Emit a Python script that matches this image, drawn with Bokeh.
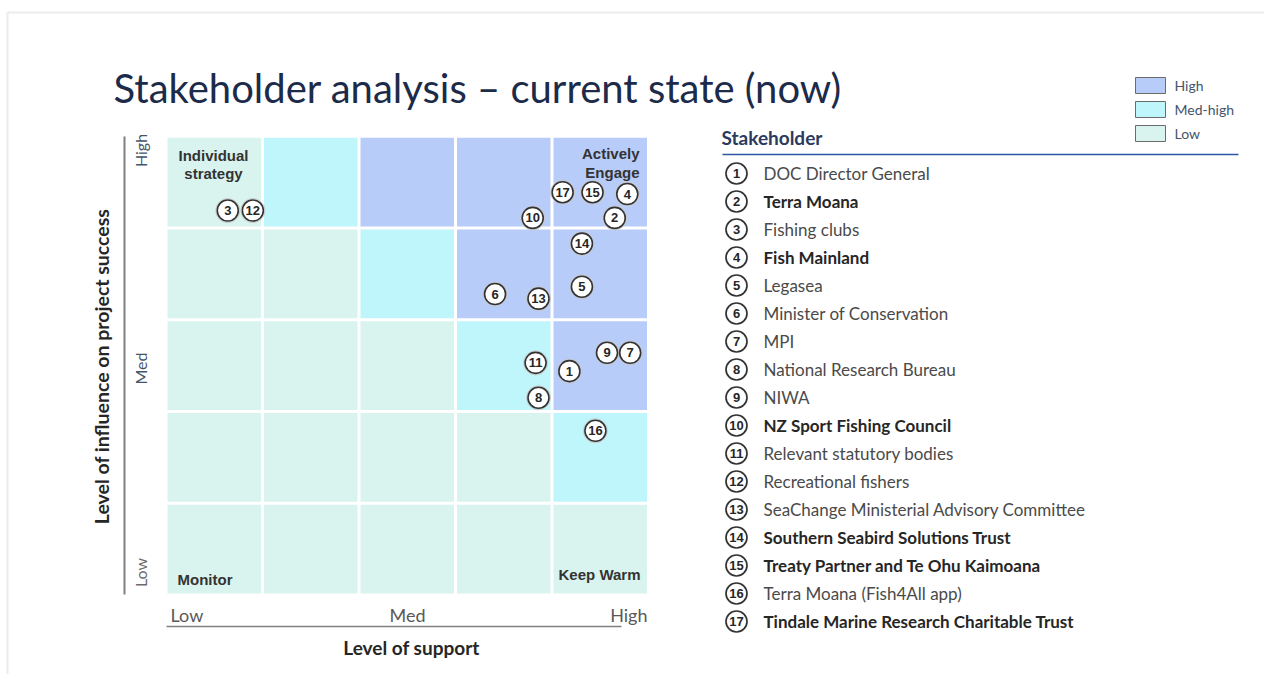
import numpy as np
from bokeh.plotting import figure
from bokeh.models import Range1d
from bokeh.core.properties import value
from bokeh.embed import file_html
from bokeh.resources import INLINE

# ---------------- data ----------------
title = "Stakeholder analysis \u2013 current state (now)"
x_axis_title = "Level of support"
y_axis_title = "Level of influence on project success"
x_tick_labels = ["Low", "Med", "High"]
y_tick_labels = ["Low", "Med", "High"]
legend_levels = ["High", "Med-high", "Low"]
level_colors = {"High": "#b8ccfa", "Med-high": "#bff6fb", "Low": "#d9f3ee"}

# priority of each cell: rows from low influence (bottom) to high influence (top),
# columns from low support (left) to high support (right)
cell_grid = [
    ["Low", "Low", "Low", "Low", "Low"],
    ["Low", "Low", "Low", "Low", "Med-high"],
    ["Low", "Low", "Low", "Med-high", "High"],
    ["Low", "Low", "Med-high", "High", "High"],
    ["Low", "Med-high", "High", "High", "High"],
]

quadrant_top_left = ["Individual", "strategy"]
quadrant_top_right = ["Actively", "Engage"]
quadrant_bottom_left = "Monitor"
quadrant_bottom_right = "Keep Warm"

list_header = "Stakeholder"
stakeholder_ids = [str(i) for i in range(1, 18)]
stakeholder_names = [
    "DOC Director General",
    "Terra Moana",
    "Fishing clubs",
    "Fish Mainland",
    "Legasea",
    "Minister of Conservation",
    "MPI",
    "National Research Bureau",
    "NIWA",
    "NZ Sport Fishing Council",
    "Relevant statutory bodies",
    "Recreational fishers",
    "SeaChange Ministerial Advisory Committee",
    "Southern Seabird Solutions Trust",
    "Treaty Partner and Te Ohu Kaimoana",
    "Terra Moana (Fish4All app)",
    "Tindale Marine Research Charitable Trust",
]
stakeholder_bold = [False, True, False, True, False, False, False, False, False,
                    True, False, False, False, True, True, False, True]
# position in the matrix (0..5 on both scales)
support = [4.18, 4.65, 0.64, 4.78, 4.31, 3.41, 4.81, 3.86, 4.57, 3.80, 3.83,
           0.90, 3.86, 4.31, 4.42, 4.45, 4.11]
influence = [2.44, 4.11, 4.19, 4.37, 3.36, 3.28, 2.64, 2.15, 2.64, 4.11, 2.53,
             4.19, 3.23, 3.83, 4.39, 1.79, 4.39]

# ---------------- layout ----------------
W, H = 1264, 674
X0, Y0 = 0, 0                      # page offset of the figure
MX0, MXU = 165.5, 96.5             # matrix left edge (px) and px per unit
MY0, MYU = 594.5, 91.75            # matrix bottom edge (px) and px per unit
GAP = 3.0

FONT_G = "Lato"
FONT_A = "Liberation Sans"
NAVY = "#1c2b4a"
SLATE = "#44546a"

p = figure(width=W, height=H, x_range=Range1d(X0, X0 + W), y_range=Range1d(Y0 + H, Y0),
           output_backend="svg", toolbar_location=None, min_border=0,
           x_axis_location=None, y_axis_location=None, background_fill_color="white",
           border_fill_color="white")
p.grid.visible = False
p.outline_line_color = None
p.extra_x_ranges = {"m": Range1d((X0 - MX0) / MXU, (X0 + W - MX0) / MXU)}
p.extra_y_ranges = {"m": Range1d((MY0 - (Y0 + H)) / MYU, (MY0 - Y0) / MYU)}
M = dict(x_range_name="m", y_range_name="m")

# slide frame
p.segment(x0=[7, 7], y0=[12, 12], x1=[X0 + W, 7], y1=[12, Y0 + H],
          line_color="#ececec", line_width=2)

# title
p.text(x=[113], y=[87], text=[title], text_font=value(FONT_G), text_font_size="40px",
       text_color=NAVY, text_baseline="middle", text_align="left")

# matrix cells
cx, cy, cc = [], [], []
for j, row in enumerate(cell_grid):
    for i, lev in enumerate(row):
        cx.append(i + 0.5)
        cy.append(j + 0.5)
        cc.append(level_colors[lev])
p.rect(x=cx, y=cy, width=1 - GAP / MXU, height=1 - GAP / MYU, fill_color=cc,
       line_color=None, **M)

# quadrant labels
qstyle = dict(text_font=value(FONT_A), text_font_style="bold", text_font_size="15px",
              text_color="#333333", text_baseline="middle")
p.text(x=[213, 213], y=[155, 173], text=quadrant_top_left, text_align="center", **qstyle)
p.text(x=[639, 639], y=[153, 172], text=quadrant_top_right, text_align="right", **qstyle)
p.text(x=[177], y=[579], text=[quadrant_bottom_left], text_align="left", **qstyle)
p.text(x=[640], y=[574], text=[quadrant_bottom_right], text_align="right", **qstyle)

# axes (drawn by hand: lines outside of the labels)
p.segment(x0=[124], y0=[136], x1=[124], y1=[594], line_color="#808080", line_width=2)
p.segment(x0=[166], y0=[626], x1=[621], y1=[626], line_color="#808080", line_width=1.5)
p.text(x=[140, 140, 140], y=[572, 368, 150], text=y_tick_labels, angle=np.pi / 2,
       text_font=value(FONT_G), text_font_size="16px",
       text_color=["#6b6b6b", SLATE, SLATE], text_align="center", text_baseline="middle")
p.text(x=[170, 407, 647], y=[614, 614, 614], text=x_tick_labels,
       text_font=value(FONT_G), text_font_size="18px", text_color="#595959",
       text_align=["left", "center", "right"], text_baseline="middle")
p.text(x=[411], y=[647], text=[x_axis_title], text_font=value(FONT_G),
       text_font_style="bold", text_font_size="19px", text_color="#262626",
       text_align="center", text_baseline="middle")
p.text(x=[101], y=[366], text=[y_axis_title], angle=np.pi / 2, text_font=value(FONT_G),
       text_font_style="bold", text_font_size="19.5px", text_color="#262626",
       text_align="center", text_baseline="middle")

# stakeholders in the matrix
p.scatter(x=support, y=influence, size=24, fill_color=None, line_color="#c8c8c8",
          line_width=1, **M)
p.scatter(x=support, y=influence, size=21, fill_color="white", line_color="#333333",
          line_width=1.6, **M)
p.text(x=support, y=influence, text=stakeholder_ids, text_font=value(FONT_A),
       text_font_style="bold", text_font_size="13px", text_color="#262626",
       text_align="center", text_baseline="middle", **M)

# legend
ly = [85 + 24 * k for k in range(len(legend_levels))]
p.rect(x=[1150] * len(ly), y=ly, width=30, height=16,
       fill_color=[level_colors[l] for l in legend_levels], line_color="#6b6b6b", line_width=1)
p.text(x=[1174] * len(ly), y=ly, text=legend_levels, text_font=value(FONT_G),
       text_font_size="14px", text_color=SLATE, text_baseline="middle", text_align="left")

# stakeholder list
p.text(x=[721], y=[137], text=[list_header], text_font=value(FONT_G), text_font_style="bold",
       text_font_size="19px", text_color="#2b3a5e", text_baseline="middle", text_align="left")
p.segment(x0=[722], y0=[154], x1=[1238], y1=[154], line_color="#2f55a4", line_width=1.5)
row_y = [173 + 28 * k for k in range(len(stakeholder_ids))]
p.scatter(x=[736] * len(row_y), y=row_y, size=21, fill_color="white", line_color="#333333",
          line_width=1.7)
p.text(x=[736] * len(row_y), y=row_y, text=stakeholder_ids, text_font=value(FONT_A),
       text_font_style="bold", text_font_size="13px", text_color="#262626",
       text_align="center", text_baseline="middle")
norm_y = [y for y, b in zip(row_y, stakeholder_bold) if not b]
norm_t = [t for t, b in zip(stakeholder_names, stakeholder_bold) if not b]
bold_y = [y for y, b in zip(row_y, stakeholder_bold) if b]
bold_t = [t for t, b in zip(stakeholder_names, stakeholder_bold) if b]
p.text(x=[763] * len(norm_y), y=norm_y, text=norm_t, text_font=value(FONT_G),
       text_font_size="17px", text_color="#4a4a4a", text_baseline="middle", text_align="left")
p.text(x=[763] * len(bold_y), y=bold_y, text=bold_t, text_font=value(FONT_G),
       text_font_style="bold", text_font_size="17px", text_color="#262626",
       text_baseline="middle", text_align="left")

open("out.html", "w").write(file_html(p, INLINE))
